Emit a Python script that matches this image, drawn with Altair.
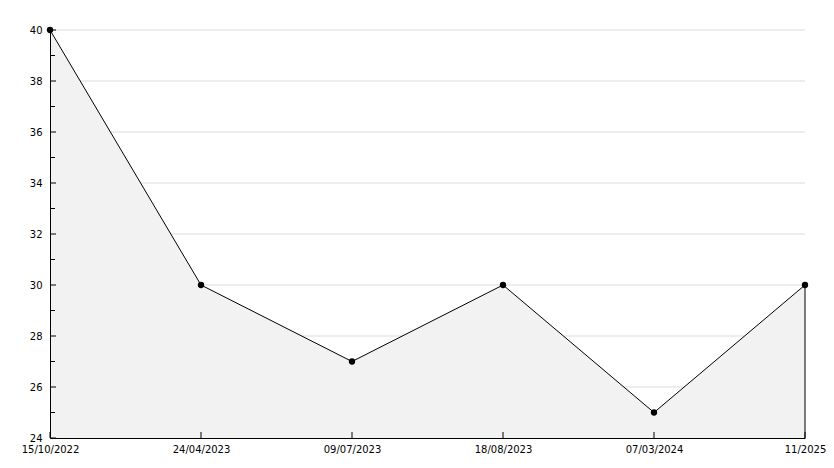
import altair as alt
import pandas as pd

dates = ["15/10/2022", "24/04/2023", "09/07/2023", "18/08/2023", "07/03/2024", "11/2025"]
values = [40, 30, 27, 30, 25, 30]
major_ticks = [24, 26, 28, 30, 32, 34, 36, 38, 40]
minor_ticks = [25, 27, 29, 31, 33, 35, 37, 39]

df = pd.DataFrame({"date": dates, "value": values})
last_df = df.iloc[[-1]]
grid_df = pd.DataFrame({"value": major_ticks[1:]})
major_df = pd.DataFrame({"value": major_ticks})
minor_df = pd.DataFrame({"value": minor_ticks})

FONT = "DejaVu Sans"

xscale = alt.Scale(type="point", padding=0, domain=dates)
yscale = alt.Scale(domain=[24, 40], nice=False, zero=False)

x_enc = alt.X("date:N", sort=dates, scale=xscale,
              axis=alt.Axis(title=None, labelAngle=0, ticks=False, grid=False,
                            domain=True, domainColor="black", domainWidth=1,
                            labelPadding=6, labelFont=FONT, labelFontSize=10,
                            labelColor="black", zindex=1))
y_enc = alt.Y("value:Q", scale=yscale,
              axis=alt.Axis(title=None, values=major_ticks, ticks=False, grid=False,
                            domain=True, domainColor="black", domainWidth=1,
                            labelPadding=8, labelFont=FONT, labelFontSize=10,
                            labelColor="black", zindex=1))

grid = alt.Chart(grid_df).mark_rule(color="#dcdcdc", strokeWidth=1).encode(
    y=alt.Y("value:Q", scale=yscale)
)

area = alt.Chart(df).mark_area(color="#f2f2f2", opacity=1).encode(
    x=x_enc, y=y_enc, y2=alt.datum(24)
)
edge = alt.Chart(last_df).mark_rule(color="black", strokeWidth=1).encode(
    x=alt.X("date:N", sort=dates, scale=xscale),
    y=alt.Y("value:Q", scale=yscale), y2=alt.datum(24)
)
line = alt.Chart(df).mark_line(color="black", strokeWidth=1).encode(
    x=alt.X("date:N", sort=dates, scale=xscale), y=alt.Y("value:Q", scale=yscale)
)
points = alt.Chart(df).mark_point(color="black", filled=True, size=40, opacity=1).encode(
    x=alt.X("date:N", sort=dates, scale=xscale), y=alt.Y("value:Q", scale=yscale)
)

ymajor = alt.Chart(major_df).mark_rule(color="black").encode(
    y=alt.Y("value:Q", scale=yscale), x=alt.value(0), x2=alt.value(6)
)
yminor = alt.Chart(minor_df).mark_rule(color="black").encode(
    y=alt.Y("value:Q", scale=yscale), x=alt.value(0), x2=alt.value(5)
)
xticks = alt.Chart(df).mark_rule(color="black").encode(
    x=alt.X("date:N", sort=dates, scale=xscale), y=alt.value(408), y2=alt.value(402)
)

chart = alt.layer(grid, area, edge, line, points, ymajor, yminor, xticks).properties(
    width=755, height=408,
    autosize=alt.AutoSizeParams(type="none"),
    padding={"left": 42, "top": 22, "right": 21, "bottom": 22},
).configure(background="white").configure_view(stroke=None)

chart.save("out.html", embed_options={"renderer": "svg", "actions": False})
